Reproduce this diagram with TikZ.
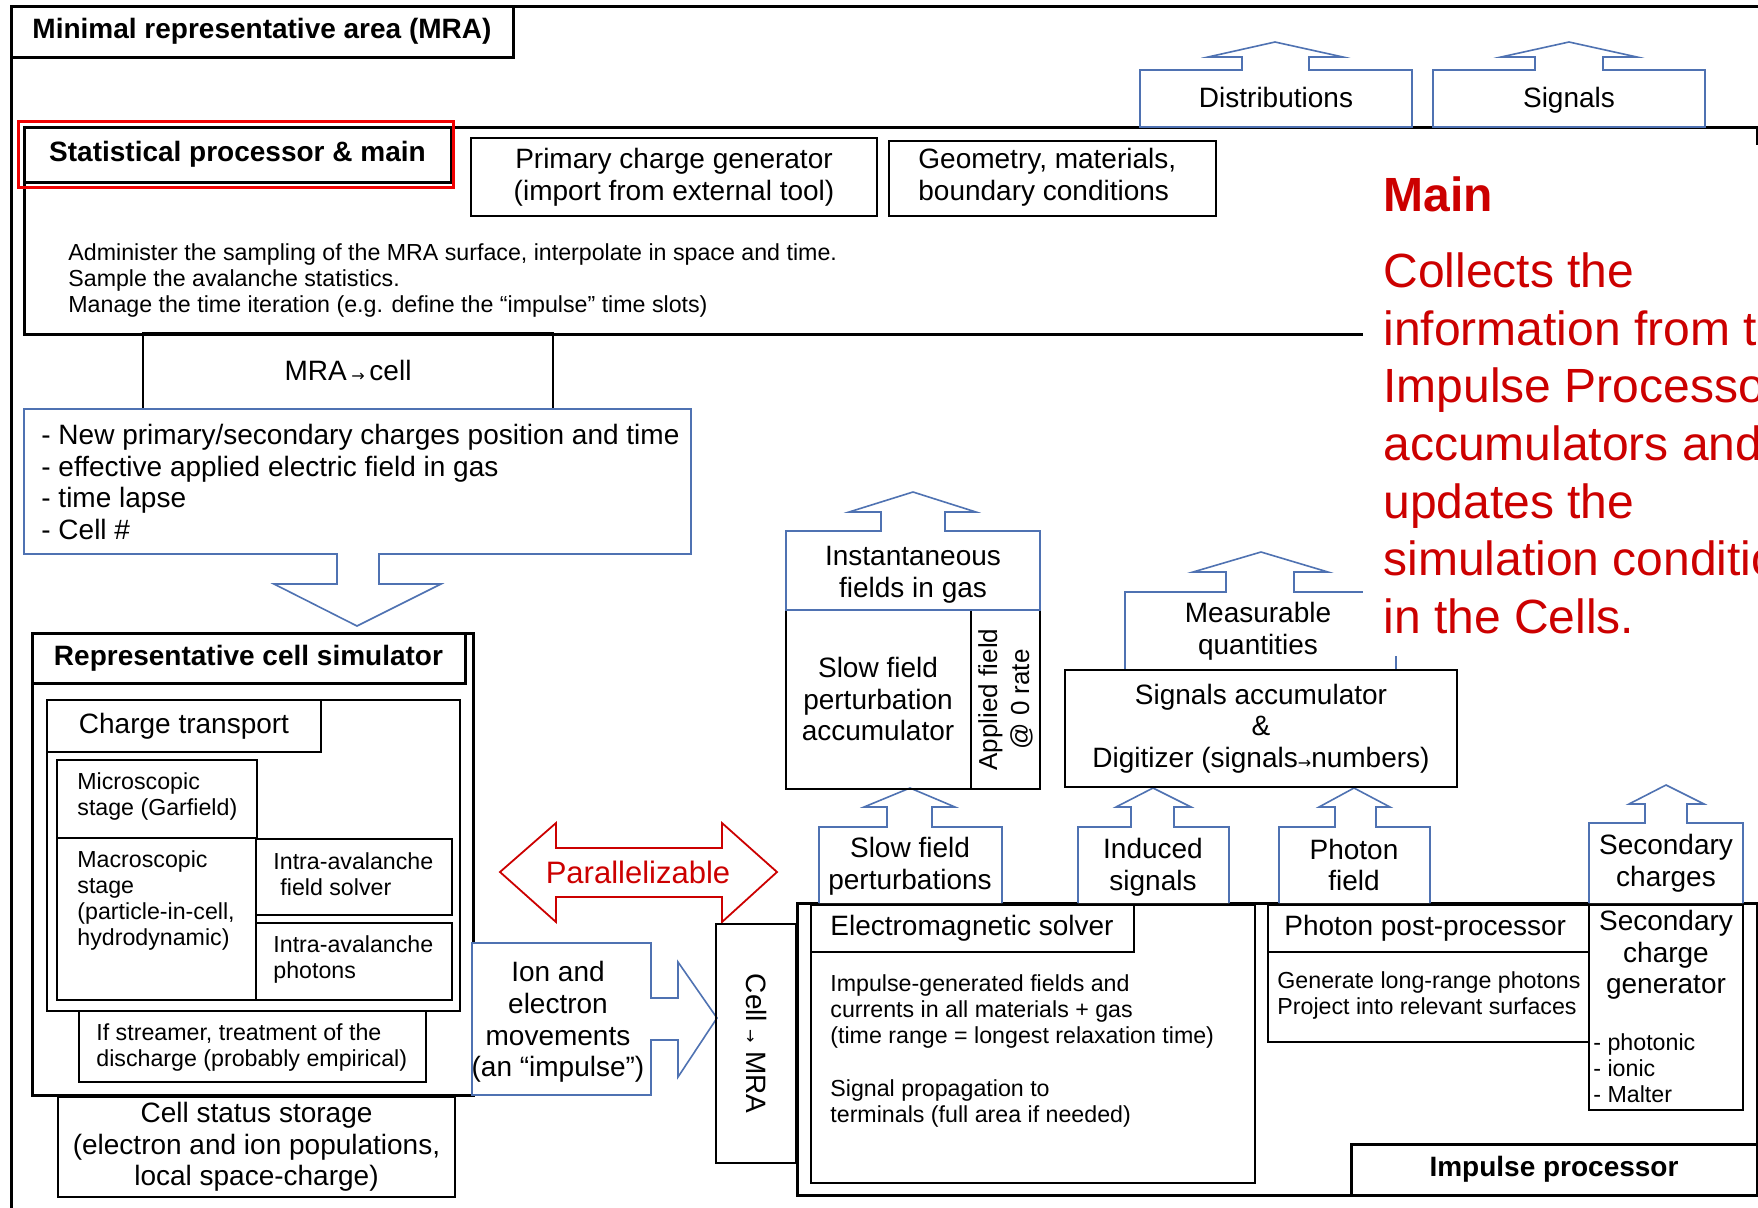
\documentclass[tikz,border=0pt]{standalone}
\usepackage{fontspec}
\setmainfont{Liberation Sans}
\newfontfamily\arw{DejaVu Sans}
\usetikzlibrary{fit}
\definecolor{bl}{RGB}{79,114,178}
\definecolor{dred}{RGB}{204,0,0}
\definecolor{bred}{RGB}{240,0,0}
\begin{document}
\begin{tikzpicture}[x=0.5pt,y=-0.5pt,
  blk/.style={draw, line width=0.9pt, inner sep=0pt, outer sep=0pt},
  thk/.style={draw, line width=1.5pt, inner sep=0pt, outer sep=0pt},
  big/.style={font=\fontsize{14}{15.8}\selectfont},
  bigb/.style={font=\bfseries\fontsize{14}{15.8}\selectfont},
  sml/.style={font=\fontsize{11.6}{13}\selectfont},
  callout/.style={draw=bl, line width=0.8pt, fill=white},
  redtxt/.style={text=dred, anchor=base west, inner sep=0pt, font=\fontsize{24}{28}\selectfont}]
\useasboundingbox (0,0) rectangle (1758,1207);
\clip (0,0) rectangle (1758,1207);
\fill[white] (0,0) rectangle (1758,1207);

% ---------- MRA frame ----------
\node[thk, fit={(11,6)(1900,1300)}] (mra) {};
\node[thk, fill=white, fit={(11,6)(513,57)}] (mratitle) {};
\node[bigb] at (mratitle.center) {Minimal representative area (MRA)};

% ---------- Statistical processor ----------
\node[thk, fit={(24,127)(1757,334)}] (stat) {};
\node[thk, fit={(24,127)(451,182)}] (stattitle) {};
\node[bigb] at (stattitle.center) {Statistical processor \& main};
\node[draw=bred, line width=1.5pt, inner sep=0pt, fit={(18,121)(453,187)}] (redbox) {};
\node[blk, fit={(471,138)(877,216)}] (pcg) {};
\node[big, align=center] at (pcg.center) {Primary charge generator\\(import from external tool)};
\node[blk, fit={(889,141)(1216,216)}] (geo) {};
\node[big, anchor=west, align=left, inner sep=0pt] (geotext) at (918,177) {Geometry, materials,\\boundary conditions};
\node[sml, anchor=west, align=left, inner sep=0pt] (desc) at (68,280) {Administer the sampling of the MRA surface, interpolate in space and time.\\Sample the avalanche statistics.\\Manage the time iteration (e.g. define the “impulse” time slots)};

% outputs
\draw[callout] (1140,127) -- (1140,70) -- (1242,70) -- (1242,57) -- (1208,57) -- (1275,42) -- (1343,57) -- (1309,57) -- (1309,70) -- (1412,70) -- (1412,127) -- cycle;
\node[big] (distr) at (1276,97) {Distributions};
\draw[callout] (1433,127) -- (1433,70) -- (1535,70) -- (1535,57) -- (1501,57) -- (1569,42) -- (1637,57) -- (1603,57) -- (1603,70) -- (1705,70) -- (1705,127) -- cycle;
\node[big] (sigs) at (1569,100) {Signals};

% ---------- MRA -> cell ----------
\node[blk, fit={(143,333)(553,409)}] (mracell) {};
\node[big] at (mracell.center) {MRA\,\raisebox{-0.5pt}{\arw\fontsize{8}{8}\selectfont →}\,cell};
\draw[callout] (24,409) -- (691,409) -- (691,554) -- (379,554) -- (379,584) -- (441,584) -- (357,626) -- (274,584) -- (337,584) -- (337,554) -- (24,554) -- cycle;
\node[big, anchor=west, align=left, inner sep=0pt] (cellin) at (41,482) {- New primary/secondary charges position and time\\- effective applied electric field in gas\\- time lapse\\- Cell \#};

% ---------- Representative cell simulator ----------
\node[thk, fit={(32,633)(473,1095)}] (rcs) {};
\node[thk, fit={(32,633)(465,683)}] (rcstitle) {};
\node[bigb] at (rcstitle.center) {Representative cell simulator};
\node[blk, fit={(47,700)(460,1011)}] (ct) {};
\node[blk, fit={(47,700)(321,752)}] (cttitle) {};
\node[big] at (cttitle.center) {Charge transport};
\node[blk, fit={(57,760)(257,838)}] (micro) {};
\node[sml, anchor=west, align=left, inner sep=0pt] at (77,796) {Microscopic\\stage (Garfield)};
\node[blk, fit={(57,838)(256,1000)}] (macro) {};
\node[sml, anchor=west, align=left, inner sep=0pt] at (77,900) {Macroscopic\\stage\\(particle-in-cell,\\hydrodynamic)};
\node[blk, fit={(256,839)(452,915)}] (ifs) {};
\node[sml, anchor=west, align=left, inner sep=0pt] at (273,874) {Intra-avalanche\\\hspace*{3.5pt}field solver};
\node[blk, fit={(256,923)(452,1000)}] (iph) {};
\node[sml, anchor=west, align=left, inner sep=0pt] at (273,959) {Intra-avalanche\\photons};
\node[blk, fill=white, fit={(79,1011)(426,1082)}] (streamer) {};
\node[sml, anchor=west, align=left, inner sep=0pt] at (96,1047) {If streamer, treatment of the\\discharge (probably empirical)};
\node[blk, fit={(58,1097)(455,1197)}] (storage) {};
\node[big, align=center] at (storage.center) {Cell status storage\\(electron and ion populations,\\local space-charge)};

% ---------- Parallelizable ----------
\draw[dred, line width=0.9pt] (500,872) -- (556,823) -- (556,848) -- (722,848) -- (722,823) -- (777,872) -- (722,922) -- (722,897) -- (556,897) -- (556,922) -- cycle;
\node[text=dred, font=\fontsize{15.5}{17}\selectfont] (par) at (638,872) {Parallelizable};

% ---------- impulse ----------
\draw[callout] (472,943) -- (651,943) -- (651,998) -- (678,998) -- (678,962) -- (717,1018) -- (678,1077) -- (678,1040) -- (651,1040) -- (651,1095) -- (472,1095) -- cycle;
\node[big, align=center] (ion) at (558,1022) {Ion and\\electron\\movements\\(an “impulse”)};
\node[blk, fit={(716,924)(796,1163)}] (cellmra) {};
\node[big, rotate=-90] at (cellmra.center) {Cell\;\raisebox{-0.5pt}{\arw\fontsize{8}{8}\selectfont →}\;MRA};

% ---------- Impulse processor ----------
\node[thk, fit={(797,903)(1757,1195)}] (imp) {};
\node[blk, fit={(811,905)(1255,1183)}] (em) {};
\node[blk, fit={(811,905)(1134,952)}] (emtitle) {};
\node[big, anchor=west, inner sep=0pt] at (830,928) {Electromagnetic solver};
\node[sml, anchor=west, align=left, inner sep=0pt] at (830,1011) {Impulse-generated fields and\\currents in all materials + gas\\(time range = longest relaxation time)};
\node[sml, anchor=west, align=left, inner sep=0pt] at (830,1103) {Signal propagation to\\terminals (full area if needed)};
\node[blk, fit={(1268,905)(1589,1042)}] (ph) {};
\node[blk, fit={(1268,905)(1589,952)}] (phtitle) {};
\node[big, anchor=west, inner sep=0pt] at (1284,928) {Photon post-processor};
\node[sml, anchor=west, align=left, inner sep=0pt] at (1277,995) {Generate long-range photons\\Project into relevant surfaces};
\node[blk, fit={(1589,905)(1743,1110)}] (scg) {};
\node[big, align=center] at (1666,955) {Secondary\\charge\\generator};
\node[sml, anchor=west, align=left, inner sep=0pt] at (1593,1068) {- photonic\\- ionic\\- Malter};
\node[thk, fit={(1351,1144)(1757,1195)}] (imptitle) {};
\node[bigb] at (imptitle.center) {Impulse processor};

% impulse outputs
\draw[callout] (819,903) -- (819,827) -- (887,827) -- (887,807) -- (864,807) -- (910,788) -- (955,807) -- (932,807) -- (932,827) -- (1002,827) -- (1002,903);
\node[big, align=center] at (910,866) {Slow field\\perturbations};
\draw[callout] (1078,903) -- (1078,827) -- (1131,827) -- (1131,807) -- (1116,807) -- (1153,788) -- (1191,807) -- (1174,807) -- (1174,827) -- (1229,827) -- (1229,903);
\node[big, align=center] at (1153,867) {Induced\\signals};
\draw[callout] (1279,903) -- (1279,827) -- (1335,827) -- (1335,807) -- (1319,807) -- (1354,788) -- (1390,807) -- (1376,807) -- (1376,827) -- (1430,827) -- (1430,903);
\node[big, align=center] at (1354,865) {Photon\\field};
\draw[callout] (1589,903) -- (1589,823) -- (1645,823) -- (1645,804) -- (1629,804) -- (1666,785) -- (1704,804) -- (1687,804) -- (1687,823) -- (1743,823) -- (1743,903);
\node[big, align=center] at (1666,863) {Secondary\\charges};

% ---------- accumulators ----------
\node[blk, fit={(786,610)(1040,789)}] (sfacc) {};
\node[big, align=center] at (878,699) {Slow field\\perturbation\\accumulator};
\node[blk, fit={(971,610)(1040,789)}] (applied) {};
\node[font=\fontsize{13}{16}\selectfont, align=center, rotate=90] at (applied.center) {Applied field\\@ 0 rate};
\draw[callout] (786,610) -- (786,531) -- (881,531) -- (881,512) -- (849,512) -- (913,492) -- (976,512) -- (945,512) -- (945,531) -- (1040,531) -- (1040,610) -- cycle;
\node[big, align=center] at (913,575) {Instantaneous\\fields in gas};
\draw[callout] (1125,670) -- (1125,592) -- (1226,592) -- (1226,572) -- (1193,572) -- (1261,552) -- (1328,572) -- (1294,572) -- (1294,592) -- (1396,592) -- (1396,670);
\node[big, align=center] at (1258,631) {Measurable\\quantities};
\node[blk, fill=white, fit={(1065,670)(1457,787)}] (sacc) {};
\node[big, align=center] at (sacc.center) {Signals accumulator\\\&\\Digitizer (signals\raisebox{-0.5pt}{\arw\fontsize{8}{8}\selectfont →}numbers)};

% ---------- Main description ----------
\fill[white] (1363,145) rectangle (1800,656);
\node[text=dred, anchor=west, inner sep=0pt, font=\bfseries\fontsize{24}{28}\selectfont] (mainhd) at (1383,194) {Main};
\node[redtxt] (m1) at (1383,287) {Collects the};
\node[redtxt] (m2) at (1383,345) {information from the};
\node[redtxt] (m3) at (1383,402) {Impulse Processor};
\node[redtxt] (m4) at (1383,460) {accumulators and};
\node[redtxt] (m5) at (1383,518) {updates the};
\node[redtxt] (m6) at (1383,575) {simulation conditions};
\node[redtxt] (m7) at (1383,633) {in the Cells.};
\end{tikzpicture}
\end{document}
